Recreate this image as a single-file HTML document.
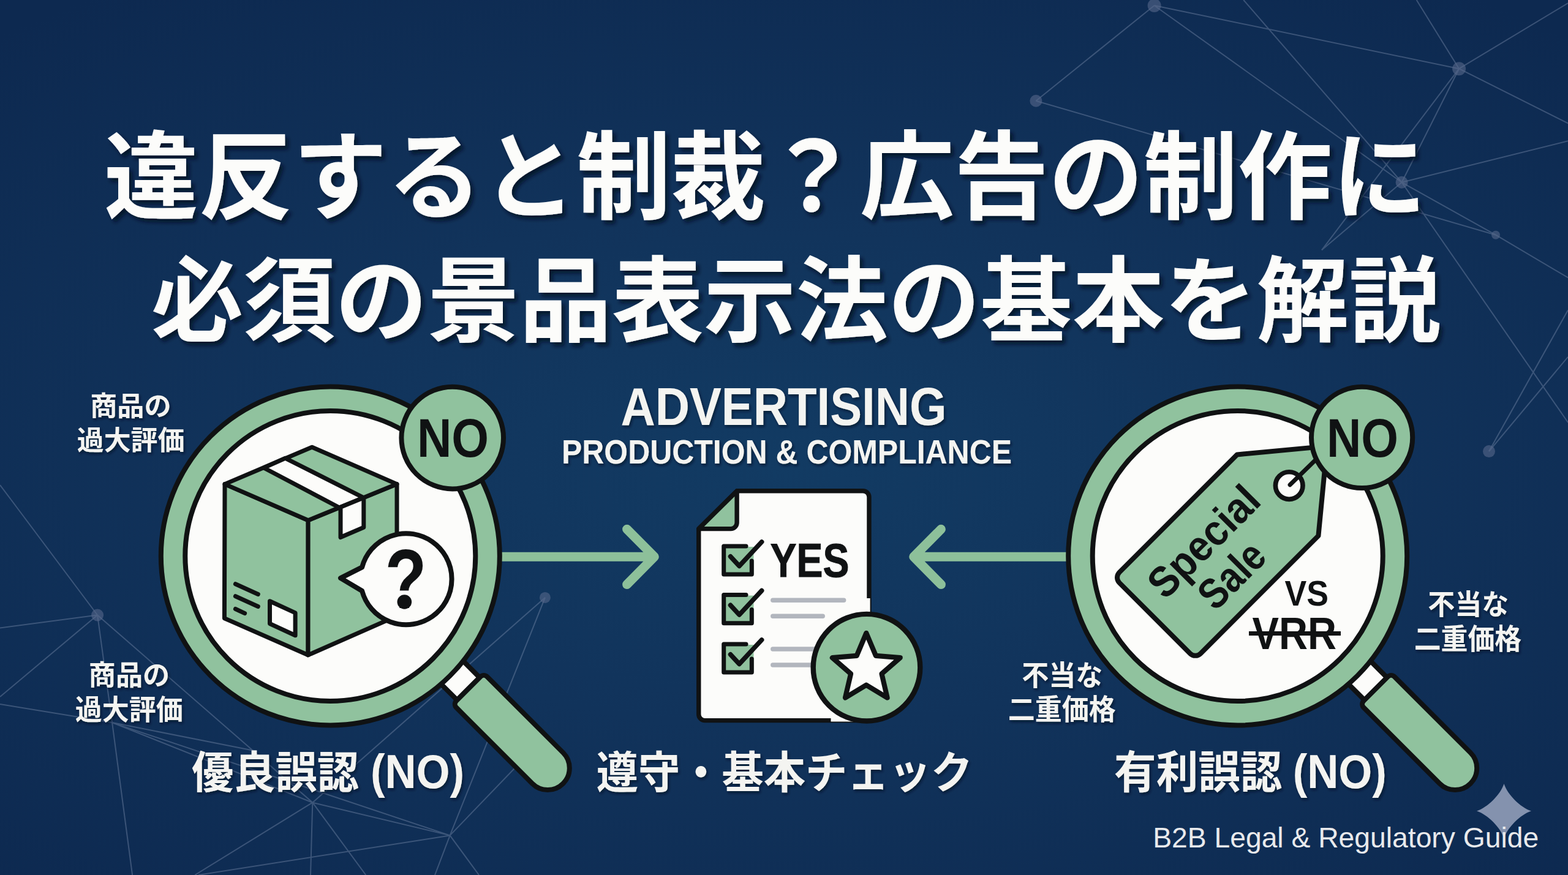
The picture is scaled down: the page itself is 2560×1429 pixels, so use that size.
<!DOCTYPE html>
<html lang="ja">
<head>
<meta charset="utf-8">
<title>違反すると制裁？広告の制作に必須の景品表示法の基本を解説</title>
<style>
html,body{margin:0;padding:0;background:#0f2d55;}
body{width:2560px;height:1429px;overflow:hidden;font-family:"Liberation Sans",sans-serif;}
svg{display:block;position:absolute;left:0;top:0;}
</style>
</head>
<body>
<svg width="2560" height="1429" viewBox="0 0 2560 1429">
<defs><radialGradient id="bg" gradientUnits="userSpaceOnUse" cx="1280" cy="760" r="1900" gradientTransform="translate(1280 760) scale(1 .5) translate(-1280 -760)"><stop offset="0" stop-color="#123b63"/><stop offset=".45" stop-color="#11335b"/><stop offset="1" stop-color="#0d2950"/></radialGradient><filter id="ds" x="-2%" y="-10%" width="104%" height="125%"><feDropShadow dx="5" dy="6" stdDeviation="3" flood-color="#040d20" flood-opacity=".8"/></filter><filter id="ds2" x="-5%" y="-15%" width="110%" height="135%"><feDropShadow dx="2" dy="3" stdDeviation="2" flood-color="#050f24" flood-opacity=".7"/></filter></defs>
<rect width="2560" height="1429" fill="url(#bg)"/>
<g stroke="#8a9ab8" stroke-width="2" opacity=".36" fill="none"><line x1="1884.6" y1="9" x2="1691.4" y2="164.7"/><line x1="1884.6" y1="9" x2="2382.1" y2="112.2"/><line x1="1884.6" y1="9" x2="2288.6" y2="297.8"/><line x1="1691.4" y1="164.7" x2="2442" y2="383.7"/><line x1="2030.3" y1="0" x2="2288.6" y2="297.8"/><line x1="2312.7" y1="0" x2="2382.1" y2="112.2"/><line x1="2382.1" y1="112.2" x2="2560" y2="5"/><line x1="2382.1" y1="112.2" x2="2288.6" y2="297.8"/><line x1="2382.1" y1="112.2" x2="2158" y2="408.3"/><line x1="2288.6" y1="297.8" x2="2158" y2="408.3"/><line x1="2382.1" y1="112.2" x2="2560" y2="201.4"/><line x1="2288.6" y1="297.8" x2="2560" y2="230.2"/><line x1="2288.6" y1="297.8" x2="2442" y2="383.7"/><line x1="2442" y1="383.7" x2="2560" y2="453.5"/><line x1="2288.6" y1="297.8" x2="2560" y2="690"/><line x1="2431" y1="737.1" x2="2560" y2="506.4"/><line x1="2431" y1="737.1" x2="2560" y2="582.8"/><line x1="18" y1="816" x2="159.1" y2="1004.5"/><line x1="0" y1="792" x2="18" y2="816"/><line x1="159.1" y1="1004.5" x2="0" y2="1025.5"/><line x1="159.1" y1="1004.5" x2="0" y2="1138"/><line x1="159.1" y1="1004.5" x2="183.1" y2="1180.1"/><line x1="183.1" y1="1180.1" x2="216.1" y2="1429"/><line x1="159.1" y1="1004.5" x2="510.3" y2="1310.7"/><line x1="0" y1="1150" x2="183.1" y2="1180.1"/><line x1="183.1" y1="1180.1" x2="734.6" y2="1364.4"/><line x1="183.1" y1="1180.1" x2="510.3" y2="1310.7"/><line x1="183.1" y1="1180.1" x2="420" y2="1227"/><line x1="510.3" y1="1310.7" x2="889.9" y2="975.9"/><line x1="734.6" y1="1364.4" x2="889.9" y2="975.9"/><line x1="510.3" y1="1310.7" x2="734.6" y2="1364.4"/><line x1="510.3" y1="1310.7" x2="318.2" y2="1429"/><line x1="510.3" y1="1310.7" x2="507" y2="1429"/><line x1="510.3" y1="1310.7" x2="597.3" y2="1429"/><line x1="734.6" y1="1364.4" x2="324" y2="1429"/><line x1="734.6" y1="1364.4" x2="782" y2="1429"/><line x1="734.6" y1="1364.4" x2="710" y2="1429"/><line x1="734.6" y1="1364.4" x2="862" y2="1232"/></g><g fill="#56688a" opacity=".6"><circle cx="1884.6" cy="9" r="11"/><circle cx="1691.4" cy="164.7" r="10"/><circle cx="2382.1" cy="112.2" r="11"/><circle cx="2288.6" cy="297.8" r="10"/><circle cx="2442" cy="383.7" r="7"/><circle cx="2431" cy="737.1" r="10"/><circle cx="159.1" cy="1004.5" r="10"/><circle cx="889.9" cy="975.9" r="9"/></g>
<g fill="none" stroke="#8dc09a" stroke-width="15" stroke-linecap="round" stroke-linejoin="round"><path d="M815 909.2H1064M1023.6 864.3L1068.3 909.2L1023.6 954.6"/><path d="M1745 909.2H1496M1536.4 864.3L1491.7 909.2L1536.4 954.6"/></g>
<g transform="translate(539.3 908) rotate(45)" stroke="#101213" stroke-width="8" stroke-linejoin="round"><rect x="262" y="-32" width="51" height="52" fill="#fcfcfa"/><path d="M320.7-41.6H495.9A35.6 35.6 0 0 1 495.9 29.6H320.7A8 8 0 0 1 312.7 21.6V-33.6A8 8 0 0 1 320.7-41.6Z" fill="#90c29e"/></g><circle cx="539.3" cy="908" r="276.5" fill="#90c29e" stroke="#101213" stroke-width="8"/><circle cx="539.3" cy="908" r="237" fill="#fcfcfa" stroke="#101213" stroke-width="8"/>
<g stroke="#101213" stroke-width="7" stroke-linejoin="round" stroke-linecap="round" fill="#90c29e"><polygon points="367.0,790.6 503.1,849.8 503.0,1069.8 366.4,1009.7"/><polygon points="503.1,849.8 648.0,790.6 648.0,1006.0 503.0,1069.8"/><polygon points="509.4,730.2 648.0,790.6 503.1,849.8 367.0,790.6"/><polygon points="465.9,748.3 593.8,812.8 554.1,829.0 430.6,764.0" fill="#fcfcfa"/><polygon points="556.0,828.2 593.8,812.8 593.8,861.2 556.0,877.5" fill="#fcfcfa"/></g><g stroke="#101213" stroke-width="7" stroke-linecap="round" stroke-linejoin="round" fill="none"><path d="M384.4 953.7L421.3 970.5M384.4 973.7L421.3 990.5M384.4 994.5L399.6 1001.7"/><polygon points="440.5,981.7 482.1,1000.9 482.1,1037.7 440.5,1018.5" fill="#fcfcfa"/></g>
<path d="M591.1 926.4L556 944.1L591.1 965.0A74.5 74.5 0 1 0 591.1 926.4Z" fill="#fcfcfa" stroke="#101213" stroke-width="8" stroke-linejoin="round"/>
<circle cx="738.7" cy="715.1" r="83.3" fill="#90c29e" stroke="#101213" stroke-width="8"/>
<g transform="translate(2020.7 908) rotate(45)" stroke="#101213" stroke-width="8" stroke-linejoin="round"><rect x="262" y="-32" width="51" height="52" fill="#fcfcfa"/><path d="M320.7-41.6H495.9A35.6 35.6 0 0 1 495.9 29.6H320.7A8 8 0 0 1 312.7 21.6V-33.6A8 8 0 0 1 320.7-41.6Z" fill="#90c29e"/></g><circle cx="2020.7" cy="908" r="276.5" fill="#90c29e" stroke="#101213" stroke-width="8"/><circle cx="2020.7" cy="908" r="237" fill="#fcfcfa" stroke="#101213" stroke-width="8"/>
<g transform="translate(1885.5 1009.7) rotate(-45)"><path d="M12-94H284L397.5 0L284 93.5H12A12 12 0 0 1 0 81.5V-82A12 12 0 0 1 12-94Z" fill="#90c29e" stroke="#101213" stroke-width="8" stroke-linejoin="round"/><circle cx="308.2" cy="1.8" r="22.3" fill="#fcfcfa" stroke="#101213" stroke-width="7.7"/></g><path d="M2106.1 791.7L2150 749" stroke="#101213" stroke-width="7" stroke-linecap="round"/>
<circle cx="2223.6" cy="714.4" r="82.6" fill="#90c29e" stroke="#101213" stroke-width="8"/>
<path d="M2039 1034.5H2189" stroke="#101213" stroke-width="6.9" stroke-linecap="butt"/>
<g stroke="#101213" stroke-width="7.4" stroke-linejoin="round" stroke-linecap="round"><path d="M1203.1 801.8H1408.95A10 10 0 0 1 1418.95 811.8V1166.6A10 10 0 0 1 1408.95 1176.6H1150.75A10 10 0 0 1 1140.75 1166.6V863.6Z" fill="#fcfcfa"/><path d="M1203.1 801.8V853.6A10 10 0 0 1 1193.1 863.6H1140.75Z" fill="#90c29e"/></g><path d="M1414.5 977H1420.6V1178.4H1356.5V1172.5H1414.5Z" fill="#fcfcfa"/><g stroke="#b2b6be" stroke-width="7.5" stroke-linecap="round"><path d="M1261.8 980.2H1377.6M1261.8 1006.2H1343.2M1261.8 1060H1340M1261.8 1086H1340"/></g><rect x="1183" y="893" width="47.5" height="45" fill="#90c29e"/><path d="M1218 892H1181.7V938.1H1227.3V916" fill="none" stroke="#101213" stroke-width="7" stroke-linejoin="round" stroke-linecap="round"/><path d="M1192.6 908.8L1207 924.4L1243.6 885" fill="none" stroke="#101213" stroke-width="7.7" stroke-linecap="round" stroke-linejoin="round"/><rect x="1183" y="972.6" width="47.5" height="45" fill="#90c29e"/><path d="M1218 971.6H1181.7V1017.7H1227.3V995.6" fill="none" stroke="#101213" stroke-width="7" stroke-linejoin="round" stroke-linecap="round"/><path d="M1192.6 988.4L1207 1004.0L1243.6 964.6" fill="none" stroke="#101213" stroke-width="7.7" stroke-linecap="round" stroke-linejoin="round"/><rect x="1183" y="1053" width="47.5" height="45" fill="#90c29e"/><path d="M1218 1052H1181.7V1098.1H1227.3V1076" fill="none" stroke="#101213" stroke-width="7" stroke-linejoin="round" stroke-linecap="round"/><path d="M1192.6 1068.8L1207 1084.4L1243.6 1045" fill="none" stroke="#101213" stroke-width="7.7" stroke-linecap="round" stroke-linejoin="round"/>
<circle cx="1415" cy="1090.2" r="87.3" fill="#90c29e" stroke="#101213" stroke-width="8.4"/><polygon points="1414.3,1033.9 1429.9,1070.8 1469.7,1074.2 1439.5,1100.4 1448.6,1139.4 1414.3,1118.7 1380.0,1139.4 1389.1,1100.4 1358.9,1074.2 1398.7,1070.8" fill="#fcfcfa" stroke="#101213" stroke-width="8.2" stroke-linejoin="round"/>
<path d="M2455.5 1280.0C2461.3 1297.8 2482.2 1318.7 2500.0 1324.5C2482.2 1330.3 2461.3 1351.2 2455.5 1369.0C2449.7 1351.2 2428.8 1330.3 2411.0 1324.5C2428.8 1318.7 2449.7 1297.8 2455.5 1280.0Z" fill="#8492ae"/>
<g font-family="'Liberation Sans', 'Noto Sans CJK JP', sans-serif" font-weight="bold">
<text x="169.74" y="345.11" font-size="157" fill="#fcfcfa" textLength="2159.4" lengthAdjust="spacingAndGlyphs" filter="url(#ds)">違反すると制裁？広告の制作に</text>
<text x="246.69" y="545.59" font-size="152" fill="#fcfcfa" textLength="2105.6" lengthAdjust="spacingAndGlyphs" filter="url(#ds)">必須の景品表示法の基本を解説</text>
<text x="147.31" y="679.07" font-size="44" fill="#f4f4f1" textLength="132.2" lengthAdjust="spacingAndGlyphs" filter="url(#ds2)">商品の</text>
<text x="125.86" y="735.01" font-size="44.5" fill="#f4f4f1" textLength="175.5" lengthAdjust="spacingAndGlyphs" filter="url(#ds2)">過大評価</text>
<text x="144.81" y="1118.72" font-size="45" fill="#f4f4f1" textLength="132.3" lengthAdjust="spacingAndGlyphs" filter="url(#ds2)">商品の</text>
<text x="122.86" y="1174.96" font-size="46" fill="#f4f4f1" textLength="176" lengthAdjust="spacingAndGlyphs" filter="url(#ds2)">過大評価</text>
<text x="2331.15" y="1003.17" font-size="46" fill="#f4f4f1" textLength="132" lengthAdjust="spacingAndGlyphs" filter="url(#ds2)">不当な</text>
<text x="2308.73" y="1059.83" font-size="47" fill="#f4f4f1" textLength="175.4" lengthAdjust="spacingAndGlyphs" filter="url(#ds2)">二重価格</text>
<text x="1668.25" y="1118.77" font-size="46" fill="#f4f4f1" textLength="132" lengthAdjust="spacingAndGlyphs" filter="url(#ds2)">不当な</text>
<text x="1645.72" y="1175.48" font-size="46.5" fill="#f4f4f1" textLength="175.9" lengthAdjust="spacingAndGlyphs" filter="url(#ds2)">二重価格</text>
<text x="312.88" y="1287.24" font-size="72" fill="#f4f4f1" textLength="273.2" lengthAdjust="spacingAndGlyphs" filter="url(#ds2)">優良誤認</text>
<text x="973.70" y="1287.21" font-size="72" fill="#f4f4f1" textLength="614.4" lengthAdjust="spacingAndGlyphs" filter="url(#ds2)">遵守・基本チェック</text>
<text x="1819.09" y="1287.39" font-size="73" fill="#f4f4f1" textLength="274.2" lengthAdjust="spacingAndGlyphs" filter="url(#ds2)">有利誤認</text>
</g>
<g font-family="'Liberation Sans', sans-serif"><text x="1013.5" y="693.7" font-size="88" font-weight="bold" fill="#f4f4f1" textLength="532" lengthAdjust="spacingAndGlyphs" filter="url(#ds2)">ADVERTISING</text><text x="917" y="757" font-size="55" font-weight="bold" fill="#f4f4f1" textLength="735" lengthAdjust="spacingAndGlyphs" filter="url(#ds2)">PRODUCTION &amp; COMPLIANCE</text><text x="681" y="745.9" font-size="88.5" font-weight="bold" fill="#101213" textLength="117" lengthAdjust="spacingAndGlyphs" >NO</text><text x="2166" y="745.9" font-size="88.5" font-weight="bold" fill="#101213" textLength="117" lengthAdjust="spacingAndGlyphs" >NO</text><text x="628.5" y="992.9" font-size="138" font-weight="bold" fill="#101213" textLength="68" lengthAdjust="spacingAndGlyphs" >?</text><text x="1257.5" y="942.3" font-size="78" font-weight="bold" fill="#101213" textLength="129" lengthAdjust="spacingAndGlyphs" stroke="#101213" stroke-width="1">YES</text><text x="2097.5" y="988.9" font-size="57.7" font-weight="bold" fill="#101213" textLength="71.5" lengthAdjust="spacingAndGlyphs" >VS</text><text x="2044.5" y="1059.9" font-size="74.7" font-weight="bold" fill="#101213" textLength="137.5" lengthAdjust="spacingAndGlyphs" >VRR</text><g transform="translate(1885.5 1009.7) rotate(-45)"><text x="32" y="-8.4" font-size="70" font-weight="bold" fill="#101213" textLength="226" lengthAdjust="spacingAndGlyphs" >Special</text><text x="77" y="62.7" font-size="70" font-weight="bold" fill="#101213" textLength="123" lengthAdjust="spacingAndGlyphs" >Sale</text></g><text x="605" y="1286.8" font-size="78" font-weight="bold" fill="#f4f4f1" textLength="153" lengthAdjust="spacingAndGlyphs" filter="url(#ds2)">(NO)</text><text x="2110.7" y="1286.8" font-size="78" font-weight="bold" fill="#f4f4f1" textLength="153" lengthAdjust="spacingAndGlyphs" filter="url(#ds2)">(NO)</text><text x="1882.2" y="1383.7" font-size="47" font-weight="normal" fill="#e9eaec" textLength="630" lengthAdjust="spacingAndGlyphs" >B2B Legal &amp; Regulatory Guide</text></g>
<circle cx="660.3" cy="983" r="11.8" fill="#101213"/>
</svg>
</body>
</html>
